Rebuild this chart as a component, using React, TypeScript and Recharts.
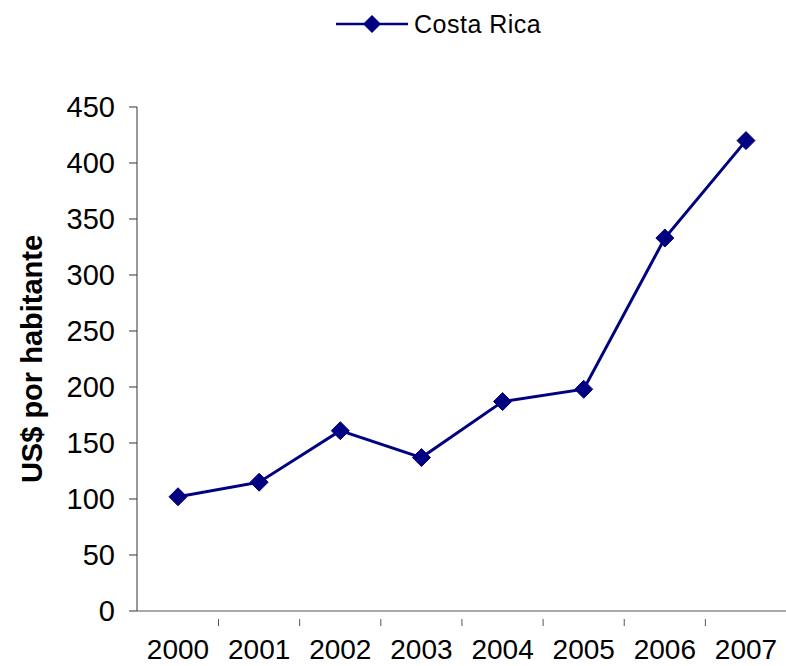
import { LineChart, Line, XAxis, YAxis, Legend } from 'recharts';

const years = ['2000', '2001', '2002', '2003', '2004', '2005', '2006', '2007'];
const costaRica = [102, 115, 161, 137, 187, 198, 333, 420];
const yTicks = [0, 50, 100, 150, 200, 250, 300, 350, 400, 450];

const data = years.map((year, i) => ({ year, value: costaRica[i] }));

const NAVY = '#000080';
const FONT = '"Liberation Sans", Arial, sans-serif';

const Diamond = (props: any) => {
  const { cx, cy } = props;
  if (cx == null || cy == null) return null;
  const r = 9;
  return (
    <path
      d={`M${cx},${cy - r}L${cx + r},${cy}L${cx},${cy + r}L${cx - r},${cy}Z`}
      fill={NAVY}
      stroke={NAVY}
    />
  );
};

// category label centred in its band, with a tick mark on the band's left edge
const YearTick = (props: any) => {
  const { x, y, payload, width, visibleTicksCount } = props;
  const band = width / visibleTicksCount;
  const edge = x - band / 2;
  return (
    <g>
      {payload.index > 0 && <line x1={edge} y1={y} x2={edge} y2={y + 7} stroke="#555" />}
      <text x={x} y={y + 40} textAnchor="middle" fontFamily={FONT} fontSize={28} fill="#000">
        {payload.value}
      </text>
    </g>
  );
};

const LegendBox = () => (
  <div style={{ display: 'flex', alignItems: 'center', fontFamily: FONT, fontSize: 25, color: '#000', height: 28 }}>
    <svg width={74} height={24} style={{ marginRight: 4 }}>
      <line x1={0} y1={12} x2={72} y2={12} stroke={NAVY} strokeWidth={2.5} />
      <path d="M36,3L45,12L36,21L27,12Z" fill={NAVY} />
    </svg>
    <span style={{ letterSpacing: 0.5 }}>Costa Rica</span>
  </div>
);

const App = () => (
  <div style={{ position: 'absolute', left: 0, top: 0, background: '#fff' }}>
    <LineChart width={787} height={666} data={data} margin={{ top: 79, right: 0, bottom: 0, left: 0 }}>
      <Legend
        verticalAlign="top"
        align="left"
        content={<LegendBox />}
        wrapperStyle={{ top: 10, left: 336, width: 300, height: 28 }}
      />
      <XAxis
        dataKey="year"
        height={55}
        axisLine={{ stroke: '#555' }}
        tickLine={false}
        tick={<YearTick />}
        interval={0}
        padding={{ left: 41, right: 41 }}
      />
      <YAxis
        width={137}
        domain={[0, 450]}
        ticks={yTicks}
        axisLine={{ stroke: '#333' }}
        tickLine={{ stroke: '#333' }}
        tickSize={8}
        tick={{ fontFamily: FONT, fontSize: 29, fill: '#000', dx: -12 }}
        label={{
          value: 'US$ por habitante',
          angle: -90,
          position: 'center',
          dx: -37,
          style: { fontFamily: FONT, fontSize: 29, fontWeight: 'bold', fill: '#000', textAnchor: 'middle' },
        }}
      />
      <Line
        type="linear"
        dataKey="value"
        stroke={NAVY}
        strokeWidth={3}
        dot={<Diamond />}
        activeDot={false}
        isAnimationActive={false}
      />
    </LineChart>
  </div>
);

export default App;
